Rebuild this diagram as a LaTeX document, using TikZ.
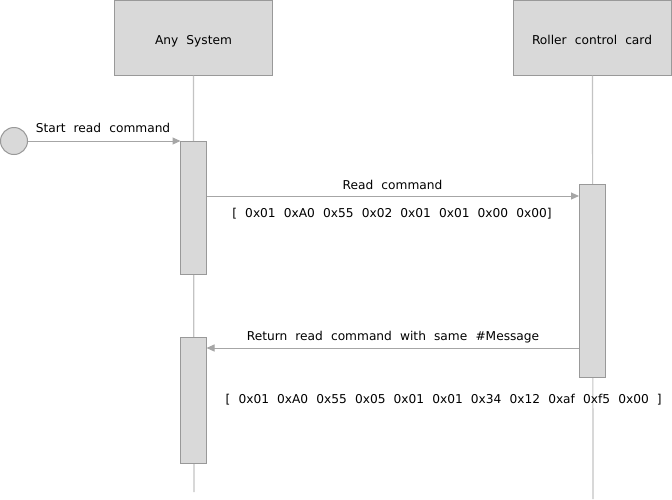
\documentclass[tikz,border=0pt]{standalone}
\usepackage{fontspec}
\setmainfont{DejaVu Sans}[WordSpace=2.1]
\usetikzlibrary{arrows.meta}
\definecolor{boxfill}{HTML}{D9D9D9}
\definecolor{boxline}{HTML}{999999}
\definecolor{lifeline}{HTML}{C3C3C3}
\definecolor{msgline}{HTML}{A6A6A6}
\definecolor{txt}{HTML}{000000}
\tikzset{
  actor/.style={draw=boxline, fill=boxfill, line width=1pt, minimum width=158pt, minimum height=75pt, inner sep=0pt},
  actbar/.style={draw=boxline, fill=boxfill, line width=1pt},
  life/.style={draw=lifeline, line width=1.2pt},
  msg/.style={draw=msgline, line width=1pt, -{Triangle[length=8pt, width=7pt]}},
  lbl/.style={font=\fontsize{12.2}{14}\selectfont, text=txt, inner sep=0pt, anchor=base},
  startdot/.style={circle, draw=boxline, fill=boxfill, line width=1pt, minimum size=27pt, inner sep=0pt}
}
\begin{document}
\begin{tikzpicture}[x=1pt, y=-1pt]
\useasboundingbox (0,0) rectangle (672,499);
% actors
\node[actor] (sys) at (193.5,37.5) {};
\node[actor] (rcc) at (592.5,37.5) {};
\node[lbl] (syst) at (193.5,44.5) {Any System};
\node[lbl] (rcct) at (592,44.5) {Roller control card};
% lifeline ends
\coordinate (sysend) at (194,492);
\coordinate (rccend) at (593,499);
\draw[life] (sys.south) -- (sysend);
\draw[life] (rcc.south) -- (rccend);
% activation bars
\filldraw[actbar] (180.5,141) rectangle (206.5,274);
\filldraw[actbar] (579,184) rectangle (605,377);
\filldraw[actbar] (180.5,337) rectangle (206.5,463);
\coordinate (a1top) at (180.5,141);
\coordinate (a1r) at (206.5,196);
\coordinate (bL) at (579,196);
\coordinate (bR) at (579,348);
\coordinate (a2r) at (206.5,348);
% start
\node[startdot] (start) at (14,141) {};
\draw[msg] (start.east) -- (a1top);
\node[lbl] (l0) at (103,132.5) {Start read command};
% read command
\draw[msg] (a1r) -- (bL);
\node[lbl] (l1) at (392.5,189) {Read command};
\node[lbl] (l2) at (392,217) {[ 0x01 0xA0 0x55 0x02 0x01 0x01 0x00 0x00]};
% return
\draw[msg] (bR) -- (a2r);
\node[lbl] (l3) at (393,340) {Return read command with same \#Message};
\node[lbl, anchor=base east] (l4) at (662,403) {[ 0x01 0xA0 0x55 0x05 0x01 0x01 0x34 0x12 0xaf 0xf5 0x00 ]};
\end{tikzpicture}
\end{document}
